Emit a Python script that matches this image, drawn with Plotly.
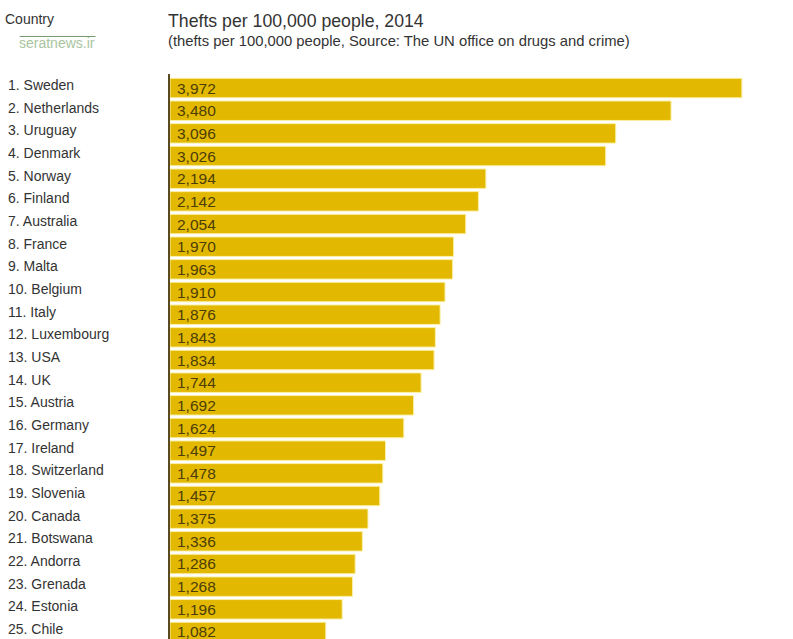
import plotly.graph_objects as go

COUNTRIES = [
    "Sweden", "Netherlands", "Uruguay", "Denmark", "Norway", "Finland", "Australia",
    "France", "Malta", "Belgium", "Italy", "Luxembourg", "USA", "UK", "Austria",
    "Germany", "Ireland", "Switzerland", "Slovenia", "Canada", "Botswana", "Andorra",
    "Grenada", "Estonia", "Chile",
]
THEFTS = [
    3972, 3480, 3096, 3026, 2194, 2142, 2054, 1970, 1963, 1910, 1876, 1843, 1834,
    1744, 1692, 1624, 1497, 1478, 1457, 1375, 1336, 1286, 1268, 1196, 1082,
]
TITLE = "Thefts per 100,000 people, 2014"
SUBTITLE = "(thefts per 100,000 people, Source: The UN office on drugs and crime)"

FONT = "Liberation Sans"
BAR_COLOR = "#e2b900"
TEXT_DARK = "#333333"


def main():
    positions = list(range(len(COUNTRIES)))

    fig = go.Figure(
        go.Bar(
            x=THEFTS,
            y=positions,
            orientation="h",
            width=0.86,
            marker=dict(color=BAR_COLOR, line=dict(color="#fbf0a8", width=1)),
        )
    )

    annotations = []
    for i, (name, value) in enumerate(zip(COUNTRIES, THEFTS)):
        # row labels sit in the left margin, a little above the bar centre
        annotations.append(dict(
            xref="paper", yref="y", x=0, y=i, xanchor="left", yanchor="middle",
            xshift=-164, yshift=3, showarrow=False, text=f"{i + 1}. {name}",
            font=dict(family=FONT, size=14, color=TEXT_DARK),
        ))
        annotations.append(dict(
            xref="x", yref="y", x=0, y=i, xanchor="left", yanchor="middle",
            xshift=5, showarrow=False, text=f"{value:,}",
            font=dict(family=FONT, size=15.5, color="#4d3d08"),
        ))

    annotations += [
        dict(xref="paper", yref="paper", x=0, y=1, xanchor="left", yanchor="middle",
             xshift=-167, yshift=55, showarrow=False, text="Country",
             font=dict(family=FONT, size=14, color=TEXT_DARK)),
        dict(xref="paper", yref="paper", x=0, y=1, xanchor="left", yanchor="middle",
             xshift=-4, yshift=53, showarrow=False, text=TITLE,
             font=dict(family=FONT, size=17.7, color=TEXT_DARK)),
        dict(xref="paper", yref="paper", x=0, y=1, xanchor="left", yanchor="middle",
             xshift=-4, yshift=33, showarrow=False, text=SUBTITLE,
             font=dict(family=FONT, size=14.8, color=TEXT_DARK)),
        # watermark
        dict(xref="paper", yref="paper", x=0, y=1, xanchor="left", yanchor="middle",
             xshift=-153, yshift=31, showarrow=False, text="seratnews.ir",
             font=dict(family=FONT, size=14, color="#a9c4a0")),
    ]

    fig.update_layout(
        width=793,
        height=639,
        margin=dict(l=169.5, r=0, t=74, b=0),
        paper_bgcolor="white",
        plot_bgcolor="white",
        showlegend=False,
        annotations=annotations,
        # thin rule above the watermark text
        shapes=[dict(type="line", xref="paper", yref="paper", x0=-0.2413, x1=-0.1195,
                     y0=1.0664, y1=1.0664, line=dict(color="#6f9a68", width=1))],
        xaxis=dict(range=[0, 4327], visible=False),
        yaxis=dict(
            range=[24.31, -0.62],
            showgrid=False,
            zeroline=False,
            showticklabels=False,
            ticks="",
            showline=True,
            linecolor="#5a4a20",
            linewidth=2,
        ),
    )
    # page margin would push the figure 8px off
    fig.write_html(
        "out.html",
        config={"displayModeBar": False},
        post_script="document.body.style.margin='0';",
    )


if __name__ == "__main__":
    main()
